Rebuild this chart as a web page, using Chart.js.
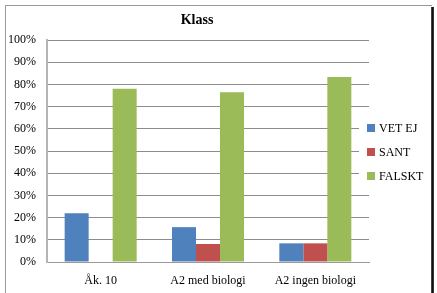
<!DOCTYPE html>
<html>
<head>
<meta charset="utf-8">
<script src="https://cdn.jsdelivr.net/npm/chart.js@4/dist/chart.umd.min.js"></script>
<style>
  html, body { margin: 0; padding: 0; background: #fff; }
  #wrap { position: relative; width: 437px; height: 293px; overflow: hidden; }
  #frame {
    position: absolute; left: 5px; top: 5px; width: 426px; height: 300px;
    border-top: 1px solid #9a9a9a; border-left: 1px solid #9a9a9a;
  }
  #shadow {
    position: absolute; left: 431px; top: 7px; width: 3px; height: 300px;
    background: linear-gradient(to right, #555, #111, #444);
  }
  canvas { position: absolute; left: 0; top: 0; }
</style>
</head>
<body>
<div id="wrap">
  <div id="frame"></div>
  <div id="shadow"></div>
  <canvas id="chart" width="437" height="293"></canvas>
</div>
<script>
const titleText = 'Klass';
const categories = ['Åk. 10', 'A2 med biologi', 'A2 ingen biologi'];
const vetEj = [22, 15.7, 8.4];
const sant = [0, 8.1, 8.4];
const falskt = [78, 76.5, 83.3];
const seriesNames = ['VET EJ', 'SANT', 'FALSKT'];
const seriesColors = ['#4f81bd', '#c0504d', '#9bbb59'];

const serifFont = "'Liberation Serif', 'Times New Roman', serif";

// title and legend are drawn at fixed spots, like the Excel original
const excelBits = {
  id: 'excelBits',
  afterDraw(chart) {
    const ctx = chart.ctx;
    ctx.save();
    ctx.fillStyle = '#000';
    ctx.font = 'bold 14px ' + serifFont;
    ctx.textAlign = 'center';
    ctx.textBaseline = 'middle';
    ctx.fillText(titleText, 197, 20);

    // legend box covers the gridlines
    ctx.fillStyle = '#fff';
    ctx.fillRect(359, 110, 70, 80);
    ctx.font = '12px ' + serifFont;
    ctx.textAlign = 'left';
    chart.data.datasets.forEach((ds, i) => {
      const y = 128 + i * 24;
      ctx.fillStyle = ds.backgroundColor;
      ctx.fillRect(367, y - 4, 8, 8);
      ctx.fillStyle = '#000';
      ctx.fillText(ds.label, 379, y + 1);
    });
    ctx.restore();
  }
};

new Chart(document.getElementById('chart'), {
  type: 'bar',
  data: {
    labels: categories,
    datasets: [
      { label: seriesNames[0], data: vetEj, backgroundColor: seriesColors[0] },
      { label: seriesNames[1], data: sant, backgroundColor: seriesColors[1] },
      { label: seriesNames[2], data: falskt, backgroundColor: seriesColors[2] }
    ]
  },
  options: {
    responsive: false,
    animation: false,
    barPercentage: 1,
    categoryPercentage: 0.671,
    layout: { padding: { top: 40, right: 68, left: 0, bottom: 0 } },
    plugins: {
      legend: { display: false },
      title: { display: false },
      tooltip: { enabled: false }
    },
    scales: {
      x: {
        grid: { display: false, drawTicks: false },
        border: { color: '#9a9a9a', width: 1 },
        ticks: { color: '#000', font: { family: serifFont, size: 12 }, padding: 12, maxRotation: 0 },
        afterFit(scale) { scale.height = 31; }
      },
      y: {
        min: 0,
        max: 100,
        grid: { color: '#8c8c8c', drawTicks: false },
        border: { color: '#b4b4b4', width: 2 },
        ticks: {
          stepSize: 10,
          color: '#000',
          font: { family: serifFont, size: 12 },
          padding: 11,
          callback: v => v + '%'
        },
        afterFit(scale) { scale.width = 47; }
      }
    }
  },
  plugins: [excelBits]
});
</script>
</body>
</html>
